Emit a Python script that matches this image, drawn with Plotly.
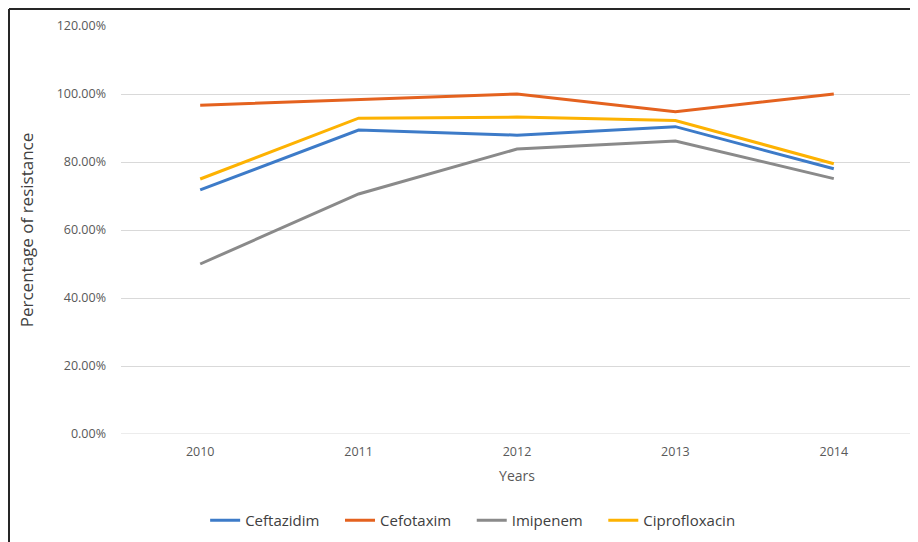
import plotly.graph_objects as go

years = ["2010", "2011", "2012", "2013", "2014"]
ceftazidim = [0.718, 0.894, 0.879, 0.904, 0.780]
cefotaxim = [0.967, 0.983, 1.000, 0.948, 1.000]
imipenem = [0.500, 0.706, 0.838, 0.862, 0.751]
ciprofloxacin = [0.750, 0.929, 0.932, 0.922, 0.795]

series = [
    ("Ceftazidim", ceftazidim, "#3D7BC8"),
    ("Cefotaxim", cefotaxim, "#E4621F"),
    ("Imipenem", imipenem, "#8A8A8A"),
    ("Ciprofloxacin", ciprofloxacin, "#FDB202"),
]

fig = go.Figure()
PAD = "\u00a0" * 4
for i, (name, vals, col) in enumerate(series):
    label = name + (PAD if i < len(series) - 1 else "")
    fig.add_trace(go.Scatter(x=years, y=vals, mode="lines", name=label,
                             line=dict(color=col, width=3)))

FONT = "Open Sans"
W, H = 910, 534
ML, MT = 113, 18
PW, PH = 792, 408.5
fig.update_layout(
    width=W, height=H,
    margin=dict(l=ML, r=W - ML - PW, t=MT, b=H - MT - PH),
    paper_bgcolor="white", plot_bgcolor="white",
    font=dict(family=FONT, color="#595959", size=12),
    showlegend=True,
    legend=dict(orientation="h", xanchor="center", x=0.444, yanchor="middle", y=-0.212,
                font=dict(size=15, color="#404040"), itemwidth=30, tracegroupgap=0),
    xaxis=dict(type="category", range=[-0.5, 4.5], showgrid=False, showline=False,
               zeroline=False, ticks="", tickfont=dict(size=12.5, color="#595959"),
               ticklabelstandoff=8,
               title=dict(text="Years", font=dict(size=14, color="#595959"), standoff=12)),
    yaxis=dict(range=[0, 1.2], dtick=0.2, tickformat=".2%", showgrid=True,
               gridcolor="#D9D9D9", gridwidth=1, zeroline=False, showline=False,
               ticks="", tickfont=dict(size=12.5, color="#595959"), ticklabelstandoff=14,
               title=dict(text="Percentage of resistance", font=dict(size=17, color="#404040"),
                          standoff=18)),
)

# bottom axis line (0% gridline)
fig.add_shape(type="line", xref="paper", yref="y", x0=0, x1=1, y0=0, y1=0,
              line=dict(color="#D9D9D9", width=1))

# outer frame (top and left edges visible)
fx = -(ML - 1) / PW
fy = 1 + (MT - 1) / PH
fig.add_shape(type="line", xref="paper", yref="paper", x0=fx, x1=1.2, y0=fy, y1=fy,
              line=dict(color="#262626", width=2))
fig.add_shape(type="line", xref="paper", yref="paper", x0=fx, x1=fx, y0=fy, y1=-0.4,
              line=dict(color="#262626", width=2))

fig.write_html("out.html")
